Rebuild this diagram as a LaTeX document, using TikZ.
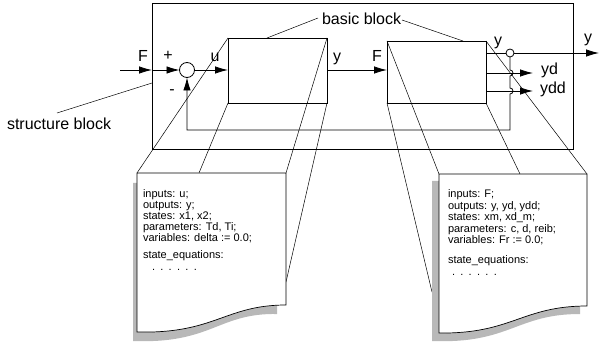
\documentclass[tikz,border=0pt]{standalone}
\usepackage{fontspec}
\setmainfont{Liberation Sans}
\usetikzlibrary{arrows.meta,calc}

\begin{document}
\begin{tikzpicture}[x=1pt,y=-1pt,
  every node/.style={inner sep=0pt, outer sep=0pt},
  ln/.style={line width=0.8pt},
  proj/.style={line width=0.5pt},
  arr/.style={ln,-{Latex[length=13pt,width=7.5pt]}},
  lbl/.style={font=\fontsize{16}{18}\selectfont, anchor=base},
  lblw/.style={font=\fontsize{16}{18}\selectfont, anchor=base west},
  doctext/.style={font=\fontsize{11}{12}\selectfont, anchor=base west},
  blk/.style={draw, line width=0.8pt, rectangle, minimum width=99pt},
  shadowfill/.style={fill=black!28, draw=none},
  docfill/.style={fill=white, draw=black, line width=0.7pt}
]
\useasboundingbox (0,0) rectangle (600,342);

% structure block (outer frame)
\node[draw, ln, minimum width=421pt, minimum height=146pt] (outer) at (362.5,76) {};

% basic blocks
\node[blk, minimum height=65pt] (b1) at (277.5,70.5) {};
\node[blk, minimum height=62pt] (b2) at (436.5,72) {};

% summing point and output branch point
\node[draw, circle, ln, minimum size=15pt] (sum) at (187,70) {};
\node[draw, circle, ln, minimum size=8pt] (oc) at (510,53) {};

% coordinates
\coordinate (fin) at (120,70);
\coordinate (yout) at (599,53);
\coordinate (ydend) at (533,73);
\coordinate (yddend) at (533,91);
\coordinate (fbr) at (510,130);
\coordinate (fbl) at (187,130);

% signal flow
\draw[arr] (fin) -- (outer.west |- fin);
\draw[arr] (outer.west |- fin) -- (sum.west);
\draw[arr] (sum.east) -- (sum.east -| b1.west);
\draw[arr] (b1.east |- sum) -- (b2.west |- sum);
\draw[ln] (b2.east |- oc) -- (oc.west);
\draw[arr] (oc.east) -- (yout);
\draw[arr] (b2.east |- ydend) -- (ydend);
\draw[arr] (b2.east |- yddend) -- (yddend);
\draw[arr] (oc.south) -- (510,70) arc[start angle=90, end angle=-90, radius=3pt]
  -- (510,88) arc[start angle=90, end angle=-90, radius=3pt]
  -- (fbr) -- (fbl) -- (sum.south);

% labels
\node[lbl] (lF) at (143,62) {F};
\node[lbl] (lplus) at (168,61) {+};
\node[lbl] (lminus) at (172,95) {-};
\node[lbl] (lu) at (215,62) {u};
\node[lbl] (ly1) at (337,62) {y};
\node[lbl] (lF2) at (377,62) {F};
\node[lbl] (ly2) at (498,46) {y};
\node[lbl] (ly3) at (588,43) {y};
\node[lblw] (lyd) at (541,74.5) {yd};
\node[lblw] (lydd) at (540,94) {ydd};

\node[lblw] (lbasic) at (322,25) {basic block};
\node[lblw] (lstruct) at (7,130) {structure block};
\draw[proj] (318,18) -- (267,38);
\draw[proj] (402,20) -- (463,41);
\draw[proj] (57,113) -- (152,83);

% document 1 projection lines
\coordinate (d1tl) at (137,173);
\coordinate (d1tm) at (199,173);
\coordinate (d1tr) at (286,173);
\coordinate (d1r) at (286,282);
\draw[proj] (d1tl) -- (b1.north west);
\draw[proj] (d1tm) -- (b1.south west);
\draw[proj] (d1tr) -- (b1.north east);
\draw[proj] (d1r) -- (b1.south east);

% document 2 projection lines
\coordinate (d2tl) at (439,174);
\coordinate (d2tm) at (520,174);
\coordinate (d2tr) at (587,174);
\coordinate (d2l) at (432,292);
\draw[proj] (d2tl) -- (b2.north west);
\draw[proj] (d2tm) -- (b2.south east);
\draw[proj] (d2tr) -- (b2.north east);
\draw[proj] (d2l) -- (b2.south west);

% shadows
\path[shadowfill] (133,183) -- (133,341) .. controls (212,344) and (218,313) .. (277,314) -- (277,183) -- cycle;
\path[shadowfill] (432,181) -- (432,341) .. controls (510,344) and (516,314) .. (580,314) -- (580,181) -- cycle;

% documents
\path[docfill] (d1tl) -- (d1tr) -- (286,305) .. controls (225,305) and (215,334) .. (137,332) -- cycle;
\path[docfill] (d2tl) -- (d2tr) -- (587,306) .. controls (522,306) and (512,334) .. (439,333) -- cycle;

% document 1 text
\node[doctext] (t11) at (143,197) {inputs: u;};
\node[doctext] (t12) at (143,208) {outputs: y;};
\node[doctext] (t13) at (143,219) {states: x1, x2;};
\node[doctext] (t14) at (143,230) {parameters: Td, Ti;};
\node[doctext] (t15) at (143,241) {variables: delta := 0.0;};
\node[doctext] (t16) at (143,258) {state\_equations:};
\node[doctext] (t17) at (152,270) {.\hskip5.3pt.\hskip5.3pt.\hskip5.3pt.\hskip5.3pt.\hskip5.3pt.};

% document 2 text
\node[doctext] (t21) at (448,197) {inputs: F;};
\node[doctext] (t22) at (448,209) {outputs: y, yd, ydd;};
\node[doctext] (t23) at (448,220) {states: xm, xd\_m;};
\node[doctext] (t24) at (448,232) {parameters: c, d, reib;};
\node[doctext] (t25) at (448,243) {variables: Fr := 0.0;};
\node[doctext] (t26) at (448,263) {state\_equations:};
\node[doctext] (t27) at (452,275) {.\hskip5.3pt.\hskip5.3pt.\hskip5.3pt.\hskip5.3pt.\hskip5.3pt.};
\end{tikzpicture}
\end{document}
